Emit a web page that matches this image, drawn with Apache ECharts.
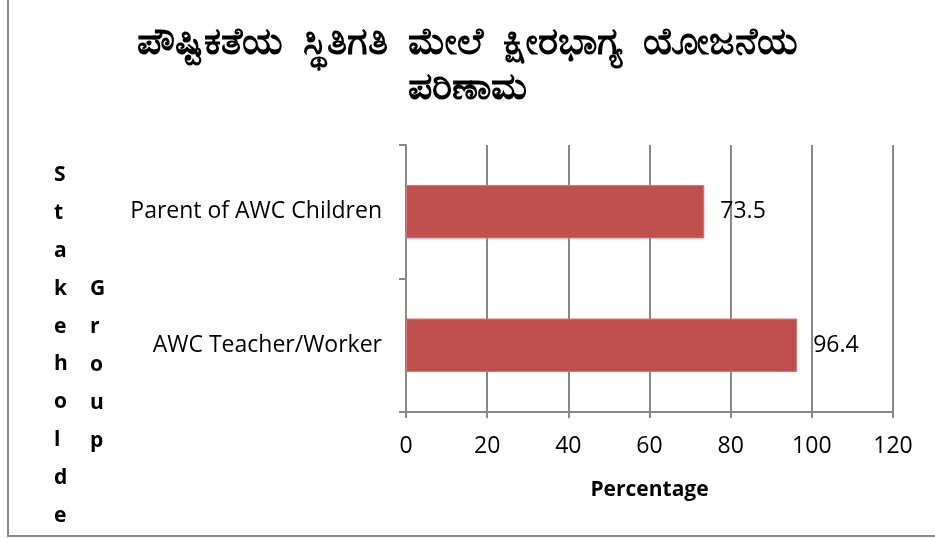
<!DOCTYPE html>
<html>
<head>
<meta charset="utf-8">
<script src="https://cdn.jsdelivr.net/npm/echarts@6/dist/echarts.min.js"></script>
<style>
html,body{margin:0;padding:0;background:#fff;}
#c{width:935px;height:538px;}
</style>
</head>
<body>
<div id="c"></div>
<script>
const titleText = 'ಪೌಷ್ಟಿಕತೆಯ  ಸ್ಥಿತಿಗತಿ  ಮೇಲೆ  ಕ್ಷೀರಭಾಗ್ಯ  ಯೋಜನೆಯ\nಪರಿಣಾಮ';
const categories = ['AWC Teacher/Worker', 'Parent of AWC Children'];
const values = [96.4, 73.5];
const xAxisName = 'Percentage';
const yNameCol1 = 'Stakeholde';
const yNameCol2 = 'Group';

const FONT = '"Open Sans", "Noto Sans", sans-serif';
const chart = echarts.init(document.getElementById('c'));
chart.setOption({
  backgroundColor: '#fff',
  animation: false,
  title: {
    text: titleText,
    left: 'center',
    top: 16,
    textStyle: { fontFamily: '"Noto Sans", "DejaVu Sans", sans-serif', fontSize: 38, fontWeight: 'bold', color: '#000', lineHeight: 45 }
  },
  grid: { left: 406, right: 42, top: 145, bottom: 126 },
  xAxis: {
    type: 'value', min: 0, max: 120, interval: 20,
    name: xAxisName, nameLocation: 'middle', nameGap: 68,
    nameTextStyle: { fontFamily: FONT, fontSize: 21, fontWeight: 'bold', color: '#000' },
    axisLine: { show: true, lineStyle: { color: '#888', width: 2 } },
    axisTick: { show: true, length: 6, lineStyle: { color: '#888', width: 2 } },
    axisLabel: { fontFamily: FONT, fontSize: 23, color: '#000', margin: 23 },
    splitLine: { show: true, lineStyle: { color: '#888', width: 2 } }
  },
  yAxis: {
    type: 'category', data: categories,
    axisLine: { show: true, lineStyle: { color: '#888', width: 2 } },
    axisTick: { show: true, length: 7, inside: false, lineStyle: { color: '#888', width: 2 } },
    axisLabel: { fontFamily: FONT, fontSize: 23, color: '#000', margin: 24 },
    splitLine: { show: false }
  },
  series: [{
    type: 'bar', data: values, barWidth: '40%',
    itemStyle: { color: '#C0504D', borderColor: '#D27573', borderWidth: 1 },
    label: { show: true, position: 'right', distance: 16, fontFamily: FONT, fontSize: 23, color: '#000' }
  }],
  graphic: [
    { type: 'line', shape: { x1: 8, y1: 0, x2: 8, y2: 536 }, style: { stroke: '#888', lineWidth: 2 } },
    { type: 'line', shape: { x1: 7, y1: 536, x2: 935, y2: 536 }, style: { stroke: '#888', lineWidth: 2 } },
    { type: 'text', left: 54, top: 156, style: { text: yNameCol1.split('').join('\n'), fontFamily: FONT, fontSize: 21, fontWeight: 'bold', fill: '#000', lineHeight: 37.9, align: 'center' } },
    { type: 'text', left: 90, top: 270, style: { text: yNameCol2.split('').join('\n'), fontFamily: FONT, fontSize: 21, fontWeight: 'bold', fill: '#000', lineHeight: 37.9, align: 'center' } }
  ]
});
</script>
</body>
</html>
